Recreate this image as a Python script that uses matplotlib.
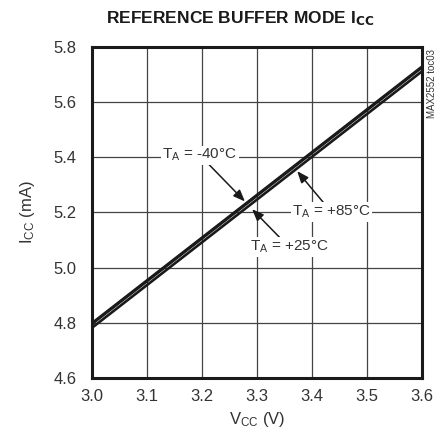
import matplotlib
matplotlib.use('Agg')
import matplotlib.pyplot as plt

vcc = [3.0, 3.1, 3.2, 3.3, 3.4, 3.5, 3.6]
icc_m40 = [4.799, 4.954, 5.109, 5.264, 5.419, 5.574, 5.729]
icc_p25 = [4.796, 4.951, 5.106, 5.261, 5.416, 5.571, 5.726]
icc_p85 = [4.782, 4.937, 5.092, 5.247, 5.402, 5.557, 5.712]

xticks = [3.0, 3.1, 3.2, 3.3, 3.4, 3.5, 3.6]
yticks = [4.6, 4.8, 5.0, 5.2, 5.4, 5.6, 5.8]

plt.rcParams['font.family'] = ['Liberation Sans Narrow', 'Liberation Sans', 'DejaVu Sans']
plt.rcParams['mathtext.default'] = 'regular'

fig = plt.figure(figsize=(4.43, 4.38), dpi=100)
ax = fig.add_axes([0.2077, 0.137, 0.745, 0.7557])

for y in [icc_m40, icc_p25, icc_p85]:
    ax.plot(vcc, y, color='#1a1a1a', lw=1.9, solid_capstyle='butt')

ax.set_xlim(3.0, 3.6)
ax.set_ylim(4.6, 5.8)
ax.set_xticks(xticks)
ax.set_yticks(yticks)
ax.set_xticklabels(['%.1f' % v for v in xticks])
ax.set_yticklabels(['%.1f' % v for v in yticks])
ax.tick_params(length=0, labelsize=12, colors='#333333')
ax.tick_params(axis='x', pad=8)
ax.tick_params(axis='y', pad=11)
ax.grid(True, color='#444444', lw=0.9)
for s in ax.spines.values():
    s.set_linewidth(2.2)
    s.set_color('#1a1a1a')

ax.set_xlabel(r'$V_{CC}$ (V)', fontsize=12, color='#333333', labelpad=4)
ax.set_ylabel(r'$I_{CC}$ (mA)', fontsize=12, color='#333333', labelpad=12)
fig.text(0.542, 0.957, r'REFERENCE BUFFER MODE I$_{\mathbf{CC}}$', ha='center', va='center',
         fontsize=12.5, fontweight='bold', color='#1a1a1a')
fig.text(0.976, 0.81, 'MAX2552 toc03', rotation=90, ha='center', va='center',
         fontsize=7, color='#333333')

box = dict(facecolor='white', edgecolor='none', pad=1)
arr = dict(arrowstyle='-|>,head_length=0.5,head_width=0.2', color='#1a1a1a', lw=1.1,
           mutation_scale=14, shrinkA=0, shrinkB=0)
ax.annotate(r'$T_A$ = -40°C', xy=(3.278, 5.240), xytext=(3.196, 5.408),
            ha='center', va='center', fontsize=11, color='#333333', bbox=box,
            arrowprops=arr)
ax.annotate(r'$T_A$ = +25°C', xy=(3.291, 5.212), xytext=(3.358, 5.075),
            ha='center', va='center', fontsize=11, color='#333333', bbox=box,
            arrowprops=arr)
ax.annotate(r'$T_A$ = +85°C', xy=(3.373, 5.350), xytext=(3.435, 5.202),
            ha='center', va='center', fontsize=11, color='#333333', bbox=box,
            arrowprops=arr)

fig.savefig('out.png', dpi=100)
